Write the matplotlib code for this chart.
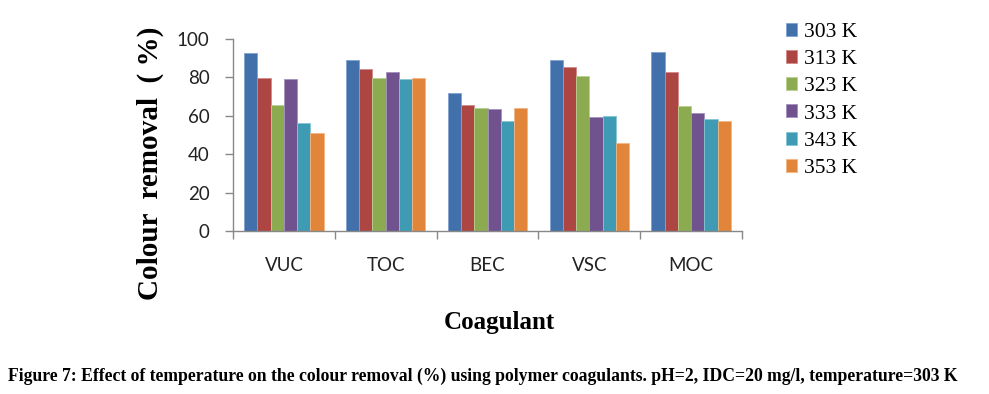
import matplotlib
matplotlib.use("Agg")
import matplotlib.pyplot as plt
import numpy as np

# data
coagulants = ["VUC", "TOC", "BEC", "VSC", "MOC"]
temps = ["303 K", "313 K", "323 K", "333 K", "343 K", "353 K"]
k303 = [92.5, 89.0, 72.0, 89.0, 93.2]
k313 = [79.8, 84.5, 65.8, 85.2, 83.0]
k323 = [65.6, 79.8, 64.2, 80.6, 64.9]
k333 = [79.3, 83.0, 63.7, 59.2, 61.5]
k343 = [56.2, 79.3, 57.1, 59.9, 58.5]
k353 = [51.0, 79.8, 64.2, 46.0, 57.1]
series = [k303, k313, k323, k333, k343, k353]
colors = ["#4170AA", "#AD4542", "#8CAA50", "#70528F", "#3F9BB3", "#E0853A"]
edges = ["#7FA2CF", "#D08A88", "#B9CF90", "#A48FBE", "#86C6D6", "#F3B685"]

fig = plt.figure(figsize=(9.89, 3.94), dpi=100)
ax = fig.add_axes([233 / 989, 1 - 231 / 394, (742 - 233) / 989, (231 - 39) / 394])

x = np.arange(len(coagulants))
n = len(series)
bw = 0.78 / n
for i, (vals, c, ec) in enumerate(zip(series, colors, edges)):
    ax.bar(x - 0.39 + bw * (i + 0.5), vals, width=bw, color=c, edgecolor=ec,
           linewidth=0.6, label=temps[i])

ax.set_xlim(-0.5, len(coagulants) - 0.5)
ax.set_ylim(0, 100)
ax.set_yticks(range(0, 101, 20))
ax.set_xticks(x)
ax.set_xticklabels(coagulants)
ax.set_xticks(np.arange(-0.5, len(coagulants)), minor=True)
ax.tick_params(axis="x", which="major", length=0, pad=19)
ax.tick_params(axis="x", which="minor", length=6, color="#888888", width=1)
ax.tick_params(axis="y", length=6, color="#888888", width=1, pad=11)
for lab in ax.get_xticklabels() + ax.get_yticklabels():
    lab.set_fontfamily("Lato")
    lab.set_fontsize(13.5)
    lab.set_color("#222222")

for s in ["top", "right"]:
    ax.spines[s].set_visible(False)
for s in ["left", "bottom"]:
    ax.spines[s].set_color("#888888")
    ax.spines[s].set_linewidth(1)

fig.text(150 / 989, 1 - 163 / 394, "Colour  removal  ( %)", rotation=90,
         ha="center", va="center", fontfamily="Liberation Serif",
         fontweight="bold", fontsize=21)

fig.text(499 / 989, 1 - 323 / 394, "Coagulant", ha="center", va="center",
         fontfamily="Liberation Serif", fontweight="bold", fontsize=18)

fig.legend(loc="upper left", bbox_to_anchor=(777 / 989, 1 - 14 / 394),
           frameon=False, prop={"family": "Liberation Serif", "size": 15.5},
           handlelength=0.55, handleheight=0.55, handletextpad=0.3,
           labelspacing=0.38, borderaxespad=0)

fig.text(8 / 989, 1 - 376 / 394,
         "Figure 7: Effect of temperature on the colour removal (%) using polymer coagulants. pH=2, IDC=20 mg/l, temperature=303 K",
         ha="left", va="center", fontfamily="Liberation Serif",
         fontweight="bold", fontsize=12.7)

fig.savefig("out.png", dpi=100)
